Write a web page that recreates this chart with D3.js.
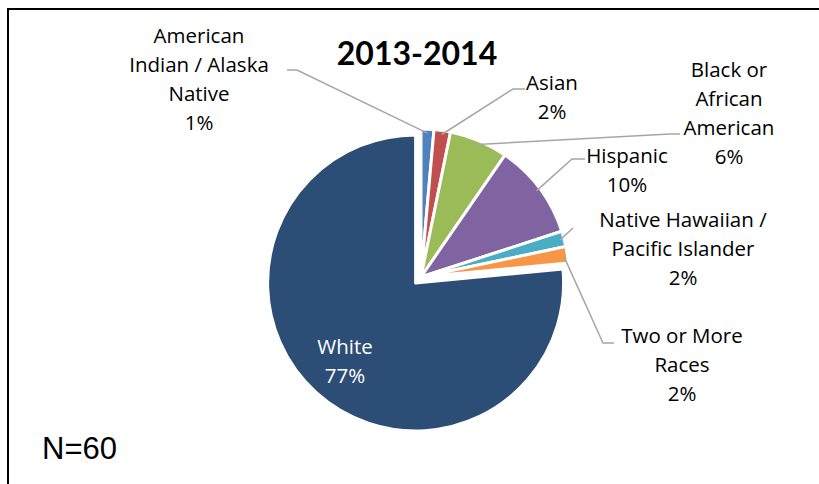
<!DOCTYPE html>
<html>
<head>
<meta charset="utf-8">
<script src="https://cdn.jsdelivr.net/npm/d3@7"></script>
<style>
  body { margin: 0; background: #fff; }
  svg { display: block; font-family: "Open Sans", Lato, sans-serif; }
</style>
</head>
<body>
<svg id="chart"></svg>
<script>
// data
const categories = ['American Indian / Alaska Native', 'Asian', 'Black or African American',
  'Hispanic', 'Native Hawaiian / Pacific Islander', 'Two or More Races', 'White'];
const labelLines = [
  ['American', 'Indian / Alaska', 'Native'],
  ['Asian'],
  ['Black or', 'African', 'American'],
  ['Hispanic'],
  ['Native Hawaiian /', 'Pacific Islander'],
  ['Two or More', 'Races'],
  ['White']
];
const values = [1.4, 1.8, 6.4, 10.4, 1.7, 1.8, 76.5];
const colors = ['#4F81BD', '#C0504D', '#9BBB59', '#8064A2', '#4BACC6', '#F79646', '#2C4D75'];
const title = '2013-2014';
const note = 'N=60';

const width = 819, height = 484;
const cx = 421, cy = 277, radius = 148;
const explode = 8; // white slice pulled out
const lineHeight = 29;

// label placement: center x, first baseline, leader elbow points (null = inside slice)
const labelLayout = [
  { x: 199, y: 43, leader: [[297, 70], [287, 70]] },
  { x: 552, y: 90, leader: [[513, 89], [525, 89]] },
  { x: 729, y: 77, leader: [[670, 134], [680, 134]] },
  { x: 627, y: 163, leader: [[572, 159], [585, 159]] },
  { x: 683, y: 227, leader: [[573, 228]] },
  { x: 682, y: 343, leader: [[603, 343], [614, 343]] },
  { x: 345, y: 354, leader: null }
];

const svg = d3.select('#chart')
  .attr('width', width)
  .attr('height', height);

// frame (right and bottom edges fall outside the picture)
svg.append('rect')
  .attr('x', 8).attr('y', 9)
  .attr('width', width).attr('height', height)
  .attr('fill', 'none')
  .attr('stroke', '#000')
  .attr('stroke-width', 2);

const pie = d3.pie().value(d => d).sort(null);
const arcs = pie(values);
const arc = d3.arc().innerRadius(0).outerRadius(radius);
const edgeArc = d3.arc().innerRadius(radius - 4).outerRadius(radius - 4);

const chart = svg.append('g')
  .attr('transform', `translate(${cx},${cy})`);

function offset(d, i) {
  if (i !== values.length - 1) return [0, 0];
  let mid = (d.startAngle + d.endAngle) / 2;
  return [Math.sin(mid) * explode, -Math.cos(mid) * explode];
}

chart.selectAll('path.slice')
  .data(arcs)
  .enter()
  .append('path')
  .attr('class', 'slice')
  .attr('d', arc)
  .attr('transform', (d, i) => `translate(${offset(d, i)})`)
  .attr('fill', (d, i) => colors[i])
  .attr('stroke', '#fff')
  .attr('stroke-width', 3)
  .attr('stroke-linejoin', 'round');

// leader lines from slice edge to label
arcs.forEach((d, i) => {
  let lay = labelLayout[i];
  if (!lay.leader) return;
  let p = edgeArc.centroid(d);
  let pts = [[cx + p[0], cy + p[1]]].concat(lay.leader);
  svg.append('path')
    .attr('d', d3.line()(pts))
    .attr('fill', 'none')
    .attr('stroke', '#A6A6A6')
    .attr('stroke-width', 1.5);
});

// labels
arcs.forEach((d, i) => {
  let lay = labelLayout[i];
  let lines = labelLines[i].concat([Math.round(values[i]) + '%']);
  let text = svg.append('text')
    .attr('text-anchor', 'middle')
    .attr('font-size', 20.5)
    .attr('fill', lay.leader ? '#000' : '#fff');
  lines.forEach((t, j) => {
    text.append('tspan')
      .attr('x', lay.x)
      .attr('y', lay.y + j * lineHeight)
      .text(t);
  });
});

svg.append('text')
  .attr('x', 417).attr('y', 65)
  .attr('text-anchor', 'middle')
  .attr('font-family', 'Lato, sans-serif')
  .attr('font-size', 32)
  .attr('font-weight', 'bold')
  .text(title);

svg.append('text')
  .attr('x', 42).attr('y', 459)
  .attr('font-family', '"Liberation Sans", Arial, sans-serif')
  .attr('font-size', 31)
  .text(note);
</script>
</body>
</html>
